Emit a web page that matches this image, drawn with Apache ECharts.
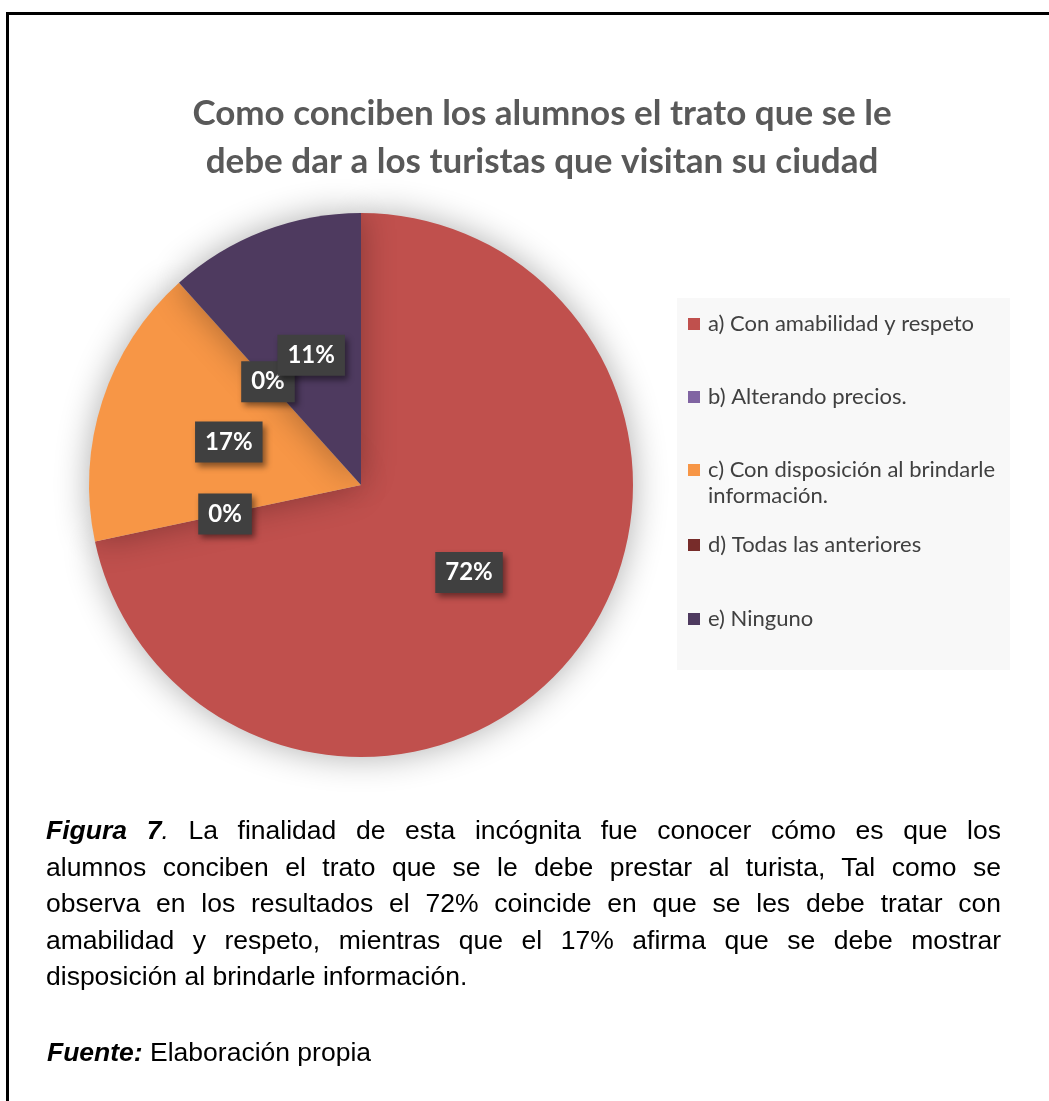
<!DOCTYPE html>
<html>
<head>
<meta charset="utf-8">
<script src="https://cdn.jsdelivr.net/npm/echarts@6/dist/echarts.min.js"></script>
<style>
  html, body { margin: 0; padding: 0; background: #fff; }
  #wrap { position: relative; width: 1049px; height: 1101px; overflow: hidden; }
  #frame { position: absolute; left: 6px; top: 12px; width: 1100px; height: 1200px;
           border-top: 3px solid #000; border-left: 3px solid #000; box-sizing: border-box; }
  #chart { position: absolute; left: 0; top: 0; width: 1049px; height: 1101px; }
  #caption { position: absolute; left: 46px; top: 812px; width: 955px;
             font-family: "Liberation Sans", Arial, sans-serif; font-size: 26.5px; line-height: 36.5px; color: #000; }
  #caption .ln { text-align: justify; text-align-last: justify; white-space: nowrap; }
  #caption .last { text-align: left; text-align-last: left; }
  #source { position: absolute; left: 47px; top: 1036px;
            font-family: "Liberation Sans", Arial, sans-serif; font-size: 26.5px; line-height: 32px; color: #000; }
</style>
</head>
<body>
<div id="wrap">
  <div id="chart"></div>
  <div id="frame"></div>
  <div id="caption">
    <div class="ln"><b><i>Figura 7</i></b><i>.</i> La finalidad de esta incógnita fue conocer cómo es que los</div>
    <div class="ln">alumnos conciben el trato que se le debe prestar al turista, Tal como se</div>
    <div class="ln">observa en los resultados el 72% coincide en que se les debe tratar con</div>
    <div class="ln">amabilidad y respeto, mientras que el 17% afirma que se debe mostrar</div>
    <div class="ln last">disposición al brindarle información.</div>
  </div>
  <div id="source"><b><i>Fuente:</i></b> Elaboración propia</div>
</div>
<script>
const titleText = 'Como conciben los alumnos el trato que se le\ndebe dar a los turistas que visitan su ciudad';
const categories = [
  'a) Con amabilidad y respeto',
  'b) Alterando precios.',
  'c) Con disposición al brindarle\ninformación.',
  'd) Todas las anteriores',
  'e) Ninguno'
];
const counts = [43, 0, 10, 0, 7];
const labelsPct = ['72%', '0%', '17%', '0%', '11%'];
const colors = ['#C0504D', '#8064A2', '#F79646', '#772C2A', '#4E3A5F'];

const chart = echarts.init(document.getElementById('chart'), null, { renderer: 'canvas' });

const legendCenters = [324, 397, 470, 545, 619];
const legends = categories.map((name, i) => {
  const isMulti = name.indexOf('\n') >= 0;
  return {
    orient: 'vertical',
    left: 688,
    top: legendCenters[i] - (isMulti ? 39 : 13),
    data: [name],
    selectedMode: false,
    icon: 'rect',
    itemWidth: 12,
    itemHeight: 12,
    itemGap: 0,
    padding: 0,
    formatter: (n) => isMulti ? '\n' + n : n,
    textStyle: { fontFamily: 'Lato', fontSize: 22, color: '#404040', lineHeight: 26, padding: [0, 0, 0, 3] }
  };
});

chart.setOption({
  animation: false,
  backgroundColor: 'transparent',
  title: {
    text: titleText,
    left: 537,
    textAlign: 'center',
    top: 85,
    textStyle: { fontFamily: 'Lato', fontWeight: 'bold', fontSize: 35, lineHeight: 48, color: '#595959' }
  },
  graphic: [{
    type: 'rect', z: -1, silent: true,
    shape: { x: 677, y: 298, width: 333, height: 372 },
    style: { fill: '#F8F8F8' }
  }],
  legend: legends,
  series: [{
    type: 'pie',
    center: [361, 485],
    radius: [0, 272],
    startAngle: 90,
    clockwise: true,
    avoidLabelOverlap: false,
    stillShowZeroSum: true,
    minShowLabelAngle: 0,
    labelLayout: { hideOverlap: false },
    itemStyle: { shadowBlur: 34, shadowColor: 'rgba(0,0,0,0.32)' },
    label: {
      show: true,
      position: 'inside',
      formatter: (p) => labelsPct[p.dataIndex],
      fontFamily: 'Lato',
      fontWeight: 'bold',
      fontSize: 24,
      lineHeight: 26,
      color: '#FFFFFF',
      backgroundColor: '#404040',
      padding: [8, 10, 7, 10],
      shadowBlur: 6,
      shadowOffsetX: 3,
      shadowOffsetY: 4,
      shadowColor: 'rgba(0,0,0,0.45)'
    },
    labelLine: { show: false },
    emphasis: { disabled: true },
    data: categories.map((n, i) => ({ name: n, value: counts[i], itemStyle: { color: colors[i] } }))
  }]
});
</script>
</body>
</html>
